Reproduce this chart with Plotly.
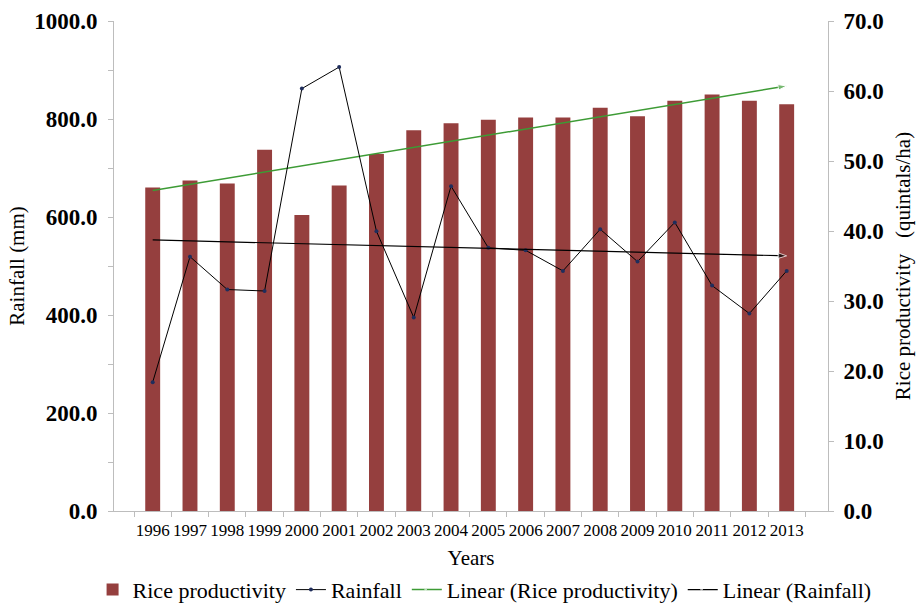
import numpy as np
import plotly.graph_objects as go

years = [str(y) for y in range(1996, 2014)]
productivity = [46.2, 47.2, 46.8, 51.6, 42.3, 46.5, 51.0, 54.4, 55.4, 55.9,
                56.2, 56.2, 57.6, 56.4, 58.6, 59.5, 58.6, 58.1]
rainfall = [263, 519, 452, 449, 862, 906, 571, 395, 663, 537,
            532, 490, 575, 509, 589, 460, 403, 490]

idx = np.arange(len(years))
p_fit = np.polyfit(idx, productivity, 1)
r_fit = np.polyfit(idx, rainfall, 1)
prod_trend = list(np.polyval(p_fit, idx))
rain_trend = list(np.polyval(r_fit, idx))

SERIF = "Liberation Serif"
n = len(years)
arrow_sizes = [0] * (n - 1) + [9]

fig = go.Figure()
# productivity on primary (right-side) axis so the rainfall traces draw on top
fig.add_trace(go.Bar(
    x=years, y=productivity, name="Rice productivity", yaxis="y",
    marker=dict(color="#953f3e", line=dict(width=0)), width=0.4,
))
fig.add_trace(go.Scatter(
    x=years, y=rainfall, name="Rainfall", mode="lines+markers", yaxis="y2",
    line=dict(color="black", width=1),
    marker=dict(color="#1f2d5c", size=4, symbol="circle"),
))
fig.add_trace(go.Scatter(
    x=years, y=prod_trend, name="Linear (Rice productivity)", yaxis="y",
    mode="lines+markers", line=dict(color="#3d9b35", width=1.5),
    marker=dict(symbol="arrow", angleref="previous", size=arrow_sizes, color="#3d9b35"),
))
fig.add_trace(go.Scatter(
    x=years, y=rain_trend, name="Linear (Rainfall)", yaxis="y2",
    mode="lines+markers", line=dict(color="black", width=1.2),
    marker=dict(symbol="arrow", angleref="previous", size=arrow_sizes, color="black"),
))

fig.update_layout(
    width=919, height=606,
    margin=dict(l=114, r=91, t=21, b=95, autoexpand=False),
    paper_bgcolor="white", plot_bgcolor="white",
    font=dict(family=SERIF, color="black"),
    showlegend=True,
    legend=dict(orientation="h", x=-0.03, y=-0.118, xanchor="left", yanchor="top",
                font=dict(family=SERIF, size=22), itemwidth=30,
                tracegroupgap=0, traceorder="normal"),
    xaxis=dict(
        type="category", showline=True, linecolor="#bdbdbd", linewidth=1,
        ticks="outside", tickson="boundaries", ticklen=5, tickcolor="#bdbdbd",
        tickfont=dict(family=SERIF, size=17), tickangle=0, showgrid=False,
        automargin=False, ticklabelstandoff=4,
        title=dict(text="Years", font=dict(family=SERIF, size=21), standoff=10),
    ),
    yaxis2=dict(
        range=[0, 1000], tickvals=[0, 200, 400, 600, 800, 1000],
        ticktext=["0.0", "200.0", "400.0", "600.0", "800.0", "1000.0"],
        overlaying="y", side="left", automargin=False,
        showline=True, linecolor="#bdbdbd", ticks="outside", ticklen=5,
        tickcolor="#bdbdbd", showgrid=False, zeroline=False, ticklabelstandoff=6,
        minor=dict(tickvals=[100, 300, 500, 700, 900], ticks="outside", ticklen=5,
                   tickcolor="#bdbdbd", showgrid=False),
        tickfont=dict(family=SERIF, size=23, weight="bold"),
        title=dict(text="Rainfall (mm)", font=dict(family=SERIF, size=21), standoff=3),
    ),
    yaxis=dict(
        range=[0, 70], side="right", dtick=10, tickformat=".1f", automargin=False,
        showline=True, linecolor="#bdbdbd", ticks="outside", ticklen=5,
        tickcolor="#bdbdbd", showgrid=False, zeroline=False, ticklabelstandoff=5,
        tickfont=dict(family=SERIF, size=23, weight="bold"),
        title=dict(text="Rice productivity   (quintals/ha)", font=dict(family=SERIF, size=21),
                   standoff=12),
    ),
    bargap=0.6,
)

fig.write_html("out.html", config={"displayModeBar": False},
               post_script="document.body.style.margin='0';document.body.style.padding='0';")
